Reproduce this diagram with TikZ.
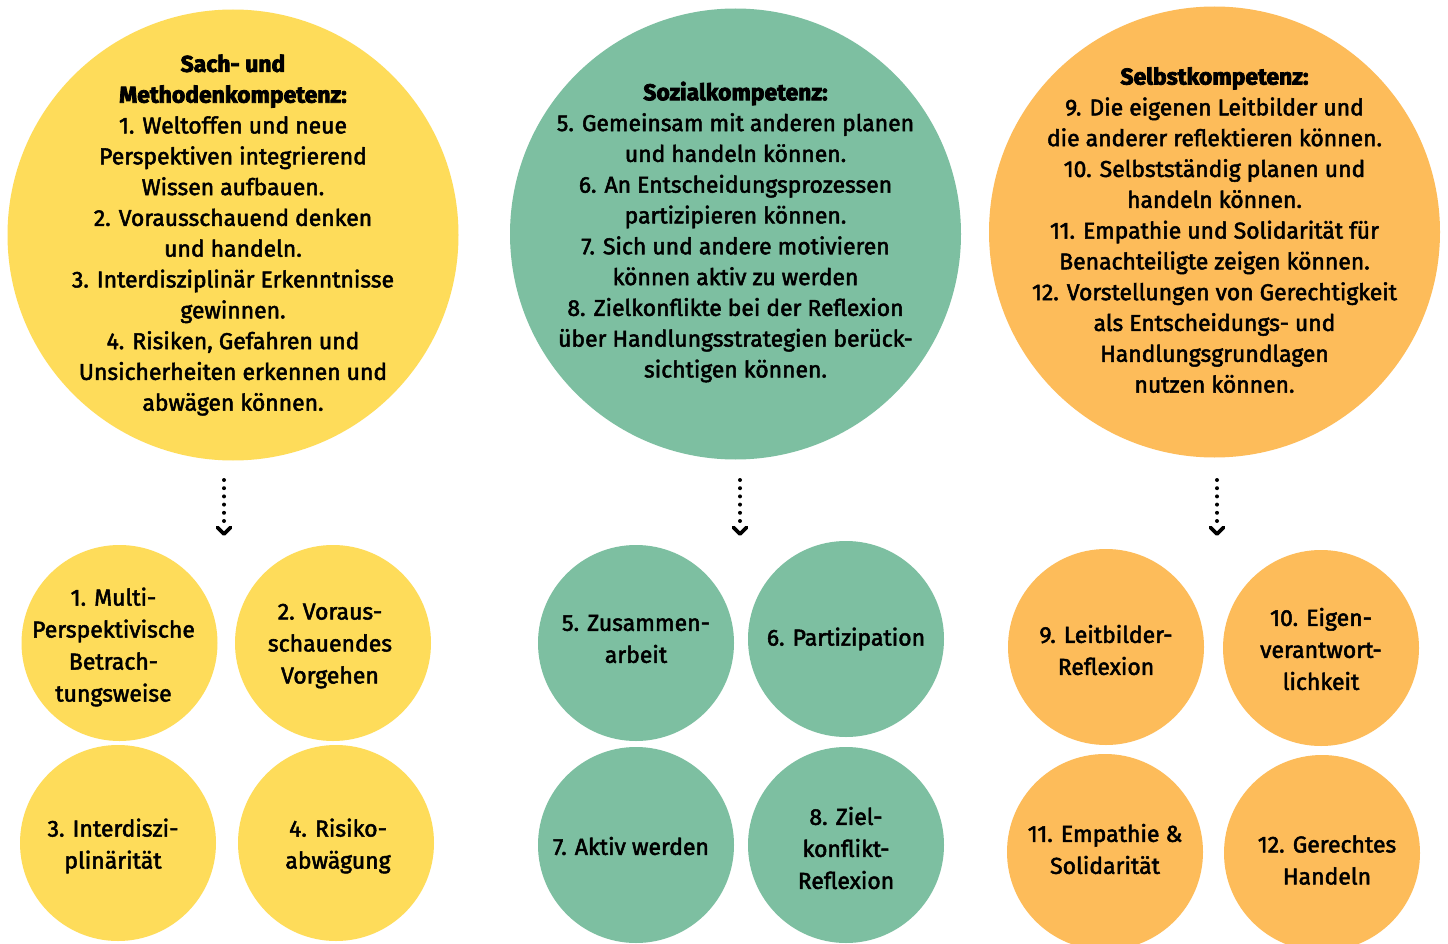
\documentclass[tikz,border=0pt]{standalone}
\usepackage{fontspec}
\setmainfont{Fira Sans}[UprightFeatures={FakeBold=2.2}, BoldFeatures={FakeBold=3.2}]
\usetikzlibrary{arrows.meta}
\definecolor{cyel}{RGB}{254,220,90}
\definecolor{cgrn}{RGB}{125,191,161}
\definecolor{corg}{RGB}{253,188,90}
\tikzset{
  big/.style={circle, minimum size=451pt, inner sep=0pt},
  bigtext/.style={align=center, inner sep=0pt, font=\fontsize{22.9}{30.8}\selectfont},
  small/.style={circle, minimum size=196pt, inner sep=0pt},
  smalltext/.style={align=center, inner sep=0pt, font=\fontsize{23}{32}\selectfont},
  dotline/.style={line width=4pt, line cap=round, dash pattern=on 0pt off 8.2pt},
  chev/.style={line width=3.8pt, line cap=round, line join=round}
}
\begin{document}
\begin{tikzpicture}[x=1pt,y=-1pt]
\useasboundingbox (0,0) rectangle (1448,944);
\fill[white] (0,0) rectangle (1448,944);
% big circles
\node[big, fill=cyel] (b1) at (233,235) {};
\node[big, fill=cgrn] (b2) at (735.5,234) {};
\node[big, fill=corg] (b3) at (1214.5,232) {};
\node[bigtext] (t1) at (b1) {\textbf{Sach- und}\\\textbf{Methodenkompetenz:}\\1. Weltoffen und neue\\Perspektiven integrierend\\Wissen aufbauen.\\2. Vorausschauend denken\\und handeln.\\3. Interdisziplinär Erkenntnisse\\gewinnen.\\4. Risiken, Gefahren und\\Unsicherheiten erkennen und\\abwägen können.};
\node[bigtext] (t2) at ([yshift=2pt]b2) {\textbf{Sozialkompetenz:}\\5. Gemeinsam mit anderen planen\\und handeln können.\\6. An Entscheidungsprozessen\\partizipieren können.\\7. Sich und andere motivieren\\können aktiv zu werden\\8. Zielkonflikte bei der Reflexion\\über Handlungsstrategien berück-\\sichtigen können.};
\node[bigtext] (t3) at ([yshift=2pt]b3) {\textbf{Selbstkompetenz:}\\9. Die eigenen Leitbilder und\\die anderer reflektieren können.\\10. Selbstständig planen und\\handeln können.\\11. Empathie und Solidarität für\\Benachteiligte zeigen können.\\12. Vorstellungen von Gerechtigkeit\\als Entscheidungs- und\\Handlungsgrundlagen\\nutzen können.};
% small circles
\node[small, fill=cyel] (s1) at (119.5,643) {};
\node[small, fill=cyel] (s2) at (333,643) {};
\node[small, fill=cyel] (s3) at (118,843) {};
\node[small, fill=cyel] (s4) at (336,843) {};
\node[small, fill=cgrn] (s5) at (636,643) {};
\node[small, fill=cgrn] (s6) at (846,639) {};
\node[small, fill=cgrn] (s7) at (636,845) {};
\node[small, fill=cgrn] (s8) at (846,845) {};
\node[small, fill=corg] (s9) at (1106,647) {};
\node[small, fill=corg] (s10) at (1321,648) {};
\node[small, fill=corg] (s11) at (1105,852) {};
\node[small, fill=corg] (s12) at (1322,853) {};
\node[smalltext] (u1) at ([shift={(-6,4)}]s1) {1. Multi-\\Perspektivische\\Betrach-\\tungsweise};
\node[smalltext] (u2) at ([shift={(-3,3)}]s2) {2. Voraus-\\schauendes\\Vorgehen};
\node[smalltext] (u3) at ([shift={(-5,3)}]s3) {3. Interdiszi-\\plinärität};
\node[smalltext] (u4) at ([shift={(2,3)}]s4) {4. Risiko-\\abwägung};
\node[smalltext] (u5) at ([shift={(0,-4)}]s5) {5. Zusammen-\\arbeit};
\node[smalltext] (u6) at (s6) {6. Partizipation};
\node[smalltext] (u7) at ([shift={(-5,1)}]s7) {7. Aktiv werden};
\node[smalltext] (u8) at ([shift={(0,3)}]s8) {8. Ziel-\\konflikt-\\Reflexion};
\node[smalltext] (u9) at ([shift={(0,3)}]s9) {9. Leitbilder-\\Reflexion};
\node[smalltext] (u10) at ([shift={(0,1)}]s10) {10. Eigen-\\verantwort-\\lichkeit};
\node[smalltext] (u11) at ([shift={(0,-3)}]s11) {11. Empathie \&\\Solidarität};
\node[smalltext] (u12) at ([shift={(5,7)}]s12) {12. Gerechtes\\Handeln};
% arrows
\foreach \n/\x in {1/224, 2/740, 3/1217} {
  \coordinate (a\n s) at (\x,480);
  \coordinate (a\n m) at (\x,521);
  \coordinate (a\n e) at (\x,534);
  \draw[dotline] (a\n s) -- (a\n m);
  \draw[chev] ([shift={(-6.5,-6.5)}]a\n e) -- (a\n e) -- ([shift={(6.5,-6.5)}]a\n e);
}
\end{tikzpicture}
\end{document}
